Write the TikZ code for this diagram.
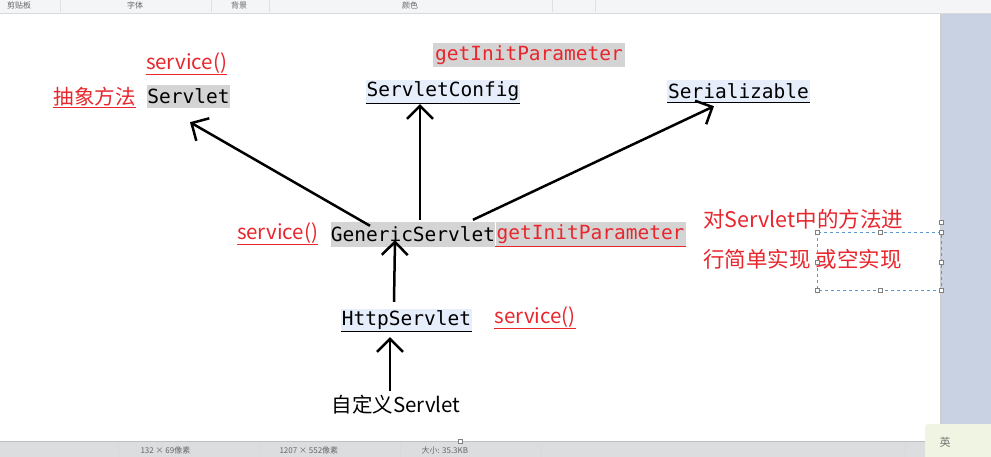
\documentclass[tikz,border=0pt]{standalone}
\usepackage{fontspec}
\usetikzlibrary{arrows.meta,positioning}
\newfontfamily\cjkfont{Noto Sans CJK SC}
\newfontfamily\codefont{DejaVu Sans Mono}
\definecolor{notered}{RGB}{232,38,44}
\definecolor{clsgray}{RGB}{212,212,212}
\definecolor{ifblue}{RGB}{230,238,251}
\definecolor{selblue}{RGB}{90,150,210}
\definecolor{barbg}{RGB}{244,245,247}
\definecolor{panelbg}{RGB}{201,210,226}
\definecolor{imebg}{RGB}{240,244,226}

\begin{document}
\begin{tikzpicture}[x=1pt,y=-1pt,
    arr/.style={-{Straight Barb[length=13pt,width=26pt]},line width=2.5pt},
    code/.style={inner sep=0pt,font=\codefont\fontsize{19.5}{20}\selectfont},
    cls/.style={code,fill=clsgray},
    iface/.style={code,fill=ifblue,uline=black},
    note/.style={inner xsep=0pt,inner ysep=1pt,text=notered,
      font=\cjkfont\fontsize{20.5}{22}\selectfont},
    uline/.style={append after command={(\tikzlastnode.south west)
      edge[-,draw=#1,line width=1.3pt] (\tikzlastnode.south east)}},
    ui/.style={text=black!60,font=\cjkfont\fontsize{8}{9}\selectfont},
    handle/.style={draw=black!50,fill=white,line width=0.6pt,minimum size=4pt,inner sep=0pt}]
  \useasboundingbox (0,0) rectangle (991,457);
  \clip (0,0) rectangle (991,457);
  % window around the canvas
  \fill[white] (0,13) rectangle (940,440);
  \fill[barbg] (0,0) rectangle (991,13);
  \draw[black!15] (0,13) -- (991,13);
  \foreach \sx in {60,211,269,552,595}
    \draw[black!12] (\sx,0) -- (\sx,12);
  \node[ui] at (19,5) {剪贴板};
  \node[ui] at (135,5) {字体};
  \node[ui] at (239,5) {背景};
  \node[ui] at (410,5) {颜色};
  \fill[panelbg] (940,14) rectangle (991,440);
  \draw[black!20] (940,14) -- (940,440);
  \fill[barbg!90!black] (0,441) rectangle (991,457);
  \draw[black!25] (0,441) -- (991,441);
  \foreach \sx in {118,259,400,541,905}
    \draw[black!15] (\sx,443) -- (\sx,457);
  \node[ui,anchor=west] at (137,450) {132 × 69像素};
  \node[ui,anchor=west] at (276,450) {1207 × 552像素};
  \node[ui,anchor=west] at (418,450) {大小: 35.3KB};
  \node[handle] at (460,441) {};
  \node[handle] at (941,222) {};
  \fill[imebg,rounded corners=3pt] (925,424) rectangle (1000,465);
  \node[ui,text=black!55,font=\cjkfont\fontsize{11}{12}\selectfont] at (945,442) {英};

  % classes and interfaces
  \node[cls,minimum width=83pt,minimum height=23pt] (servlet) at (188.5,96.5) {Servlet};
  \node[iface,minimum width=154pt,minimum height=23pt] (cfg) at (443,91.5) {ServletConfig};
  \node[iface,minimum width=143pt,minimum height=22pt] (ser) at (738.5,91) {Serializable};
  \node[cls,minimum width=164pt,minimum height=25pt] (gen) at (413,234.5) {GenericServlet};
  \node[iface,minimum width=131pt,minimum height=22pt] (http) at (406.5,320) {HttpServlet};
  \node[inner sep=1pt,font=\cjkfont\fontsize{20.5}{22}\selectfont] (own) at (396,405) {自定义Servlet};

  % notes
  \node[note,uline=notered] (svc1) at (186.5,63) {service()};
  \node[note,uline=notered,left=11pt of servlet] (abs) {抽象方法};
  \node[code,fill=clsgray,text=notered,minimum width=192pt,minimum height=24pt] (par1) at (529,55) {getInitParameter};
  \node[note,uline=notered] (svc2) at (277.5,233) {service()};
  \node[cls,text=notered,uline=notered,right=0pt of gen,minimum width=190pt,minimum height=24pt] (par2) {getInitParameter};
  \node[note,uline=notered] (svc3) at (535,317) {service()};
  \node[note,anchor=west,font=\cjkfont\fontsize{21.5}{23}\selectfont] (txt1) at (703,219) {对Servlet中的方法进};
  \node[note,anchor=west,font=\cjkfont\fontsize{21.5}{23}\selectfont] (txt2) at (703,259) {行简单实现 或空实现};

  % selection box
  \draw[selblue,dashed,line width=0.8pt] (817,232) rectangle (941,290);
  \foreach \hx/\hy in {817/232,880/232,941/232,817/262,941/262,817/290,880/290,941/290}
    \node[handle] at (\hx,\hy) {};

  % arrows
  \draw[arr] ([xshift=-43pt,yshift=-4pt]gen.north) -- ([xshift=1.5pt,yshift=-14pt]servlet.south);
  \draw[arr] ([xshift=7pt,yshift=2pt]gen.north) -- ([xshift=-23pt,yshift=-1pt]cfg.south);
  \draw[arr] ([xshift=60pt,yshift=2pt]gen.north) -- ([xshift=-24.5pt,yshift=-4pt]ser.south);
  \draw[arr] ([xshift=-12.5pt,yshift=7pt]http.north) -- ([xshift=-18pt,yshift=7pt]gen.south);
  \draw[arr] ([xshift=-6pt,yshift=3pt]own.north) -- ([xshift=-16.5pt,yshift=-6pt]http.south);
\end{tikzpicture}
\end{document}
